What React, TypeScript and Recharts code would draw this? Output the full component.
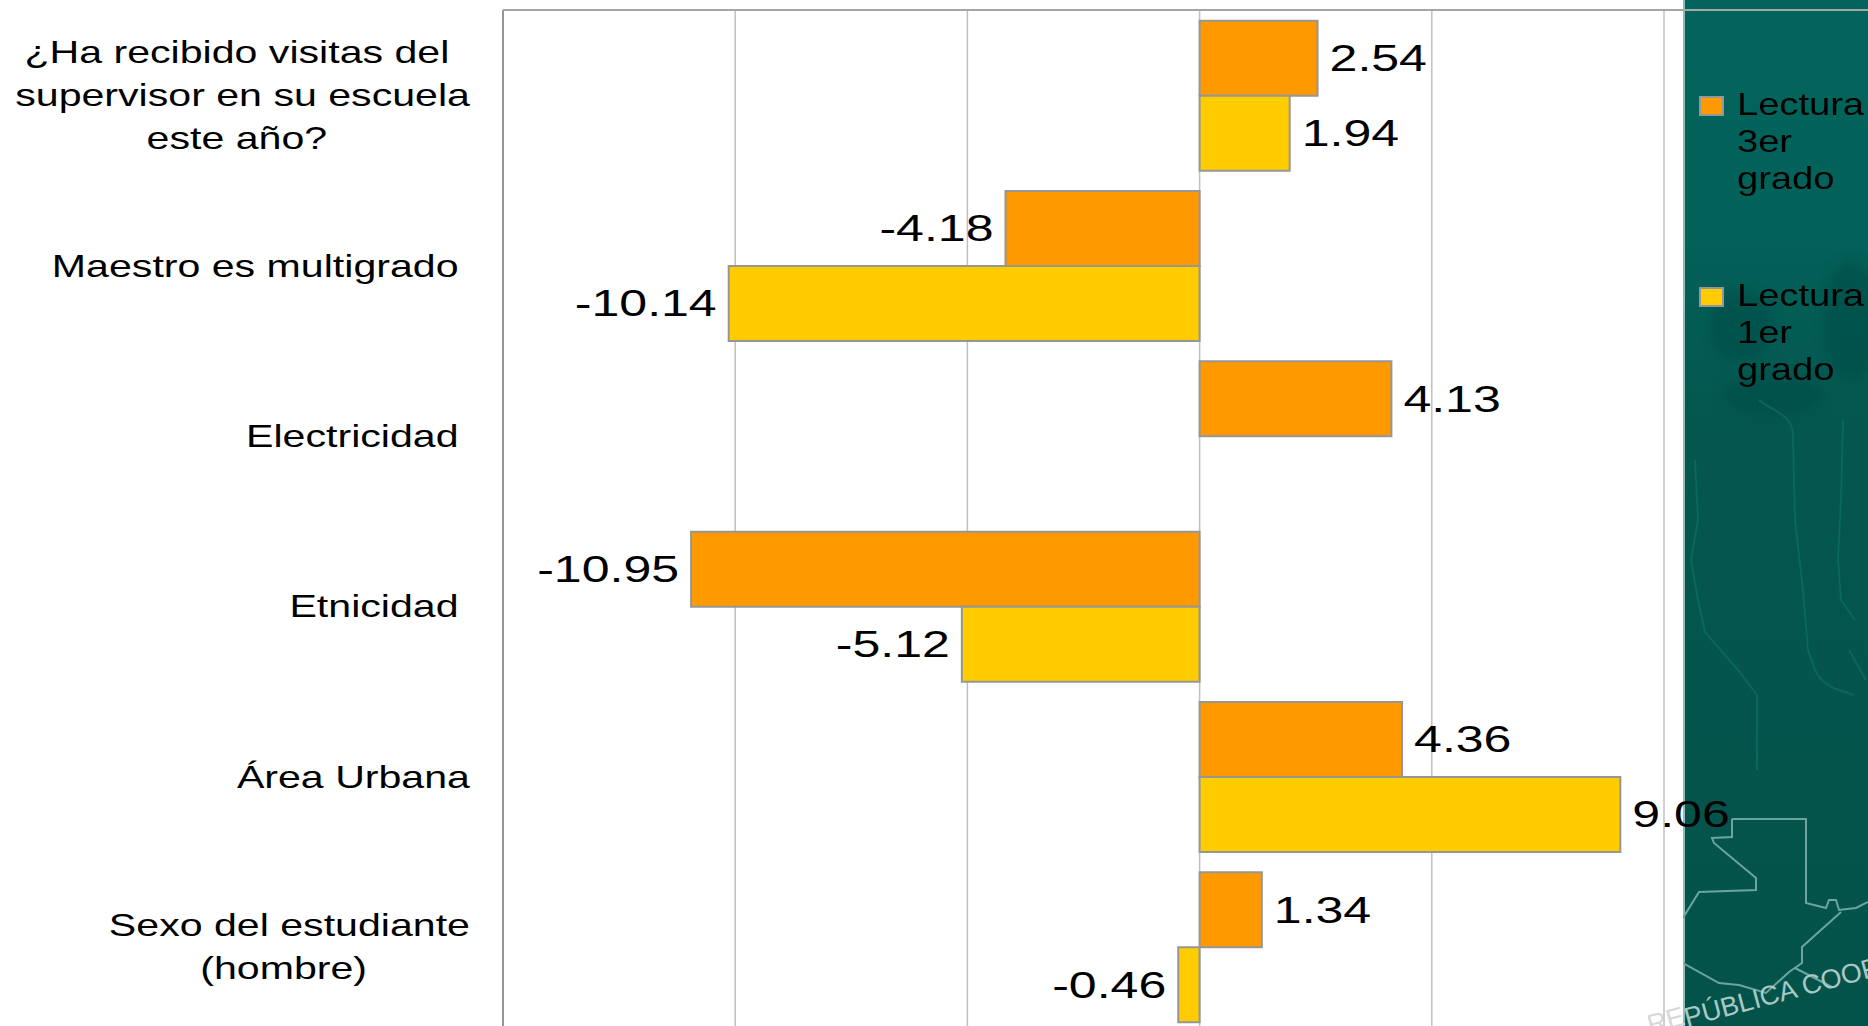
import React from 'react';
import { BarChart, Bar, XAxis, YAxis, CartesianGrid, LabelList, Legend } from 'recharts';

const categories = [
  '¿Ha recibido visitas del |supervisor en su escuela|este año? ',
  'Maestro es multigrado ',
  'Electricidad ',
  'Etnicidad ',
  'Área Urbana',
  'Sexo del estudiante|(hombre) ',
];
const lectura3er = [2.54, -4.18, 4.13, -10.95, 4.36, 1.34];
const lectura1er: (number | null)[] = [1.94, -10.14, null, -5.12, 9.06, -0.46];
const xTicks = [-15, -10, -5, 0, 5, 10];

const data = categories.map((category, i) => ({
  category,
  lectura3er: lectura3er[i],
  lectura1er: lectura1er[i],
}));

const FONT = '"Liberation Sans", Arial, sans-serif';
const TICK_SCALE = 1.285;
const VALUE_SCALE = 1.39;
const LEGEND_SCALE = 1.19;

const measure = (text: string, size: number) => {
  const ctx = document.createElement('canvas').getContext('2d')!;
  ctx.font = `${size}px "Liberation Sans"`;
  return ctx.measureText(text).width * TICK_SCALE;
};

const CategoryTick = ({ y, payload }: any) => {
  const lines: string[] = payload.value.split('|');
  const size = 32;
  const lineHeight = 43;
  const right = 470;
  const blockWidth = Math.max(...lines.map((l) => measure(l, size)));
  const cx = right - blockWidth / 2;
  const startY = y + 11 - ((lines.length - 1) * lineHeight) / 2;
  return (
    <g transform={`translate(${cx} ${startY}) scale(${TICK_SCALE} 1)`}>
      {lines.map((l, i) => (
        <text
          key={i}
          x={0}
          y={i * lineHeight}
          textAnchor="middle"
          fontFamily={FONT}
          fontSize={size}
          fill="#000"
          style={{ whiteSpace: 'pre' }}
        >
          {l}
        </text>
      ))}
    </g>
  );
};

const ValueLabel = ({ x, y, width, height, value }: any) => {
  if (value == null) return null;
  const negative = value < 0;
  const px = negative ? x + width - 12 : x + width + 12;
  return (
    <g transform={`translate(${px} ${y + height / 2 + 13}) scale(${VALUE_SCALE} 1)`}>
      <text x={0} y={0} textAnchor={negative ? 'end' : 'start'} fontFamily={FONT} fontSize={36} fill="#000">
        {value.toFixed(2)}
      </text>
    </g>
  );
};

// legend names wrap on each word, like in the slide
const LegendBlock = ({ payload }: any) => (
  <div style={{ fontFamily: FONT, color: '#000' }}>
    {payload.map((entry: any) => (
      <div key={entry.dataKey} style={{ display: 'flex', height: 191 }}>
        <span
          style={{
            flex: 'none',
            width: 25,
            height: 20,
            marginTop: 3,
            marginRight: 13,
            background: entry.color,
            border: '2px solid #969696',
            boxSizing: 'border-box',
          }}
        />
        <span style={{ fontSize: 32, lineHeight: '37px', marginTop: -7, transform: `scale(${LEGEND_SCALE},1)`, transformOrigin: 'left top' }}>
          {String(entry.value).replace('Lectura ', 'Lectura|').replace(' grado', '|grado').split('|').map((l) => (
            <div key={l}>{l}</div>
          ))}
        </span>
      </div>
    ))}
  </div>
);

const Panel = () => (
  <div
    style={{
      position: 'absolute',
      left: 1683,
      top: 0,
      width: 185,
      height: 1026,
      background: 'linear-gradient(180deg, #02645c 0%, #02625a 22%, #04564e 42%, #04534b 100%)',
      overflow: 'hidden',
    }}
  >
    <svg width={185} height={1026} style={{ position: 'absolute', left: 0, top: 0 }}>
      <defs>
        <filter id="soft">
          <feGaussianBlur stdDeviation="6" />
        </filter>
      </defs>
      <rect x={0} y={0} width={2} height={1026} fill="#8fbcb5" />
      <g fill="#034a44" opacity={0.45} filter="url(#soft)">
        <ellipse cx={58} cy={325} rx={32} ry={36} />
        <ellipse cx={168} cy={320} rx={28} ry={60} />
        <ellipse cx={90} cy={395} rx={50} ry={20} />
      </g>
      <g fill="none" stroke="#0b665b" strokeWidth={2}>
        <path d="M76 400 C90 412 112 414 110 440 L112 520 L120 590 L125 650 L132 670 C142 690 160 690 170 695" />
        <path d="M12 460 L15 520 L8 560 L15 600 L22 632 L55 670 L74 695 L74 770" />
        <path d="M160 420 L158 500 L155 560 L158 600 L172 620 M166 650 L183 680" />
      </g>
      <g fill="none" stroke="#6ba59d" strokeWidth={2}>
        <path d="M49 819 H123 V903 L143 908 L146 900 L153 900 L156 910 L173 908 L185 902" />
        <path d="M49 819 V837 L29 838 L31 843 L73 878 L73 890 L16 892 L0 918" />
        <path d="M158 912 L119 947 L119 963 L106 972 L83 993 L56 985 L36 983 L0 963 M112 968 L149 987" />
      </g>
      <text x={4} y={1027} fontFamily={FONT} fontSize={27} fill="#a9c9c4" transform="rotate(-15 4 1027)">
        PÚBLICA COOPERA
      </text>
    </svg>
  </div>
);

export default function App() {
  return (
    <div style={{ position: 'absolute', left: 0, top: 0, width: 1868, height: 1026, overflow: 'hidden', background: '#fff' }}>
      <Panel />
      <svg width={40} height={26} style={{ position: 'absolute', left: 1648, top: 1000 }}>
        <text x={2} y={34} fontFamily={FONT} fontSize={27} fill="#d8d8d8" transform="rotate(-15 2 34)">
          RE
        </text>
      </svg>
      <div style={{ position: 'absolute', left: 0, top: 0 }}>
        <BarChart
          width={1868}
          height={1032}
          layout="vertical"
          data={data}
          margin={{ top: 10, right: 204, bottom: 0, left: 0 }}
          barCategoryGap="6.25%"
          barGap={0}
        >
          <CartesianGrid horizontal={false} stroke="#c0c0c0" strokeWidth={1.5} />
          <XAxis type="number" domain={[-15, 10]} ticks={xTicks} hide />
          <YAxis
            type="category"
            dataKey="category"
            width={503}
            axisLine={{ stroke: '#969696', strokeWidth: 2 }}
            tickLine={false}
            tick={<CategoryTick />}
            interval={0}
          />
          <Legend
            content={<LegendBlock />}
            itemSorter={null}
            layout="vertical"
            align="center"
            verticalAlign="middle"
            wrapperStyle={{ left: 1699, top: 93, width: 170 }}
          />
          <Bar dataKey="lectura3er" name="Lectura 3er grado" fill="#ff9900" stroke="#969696" strokeWidth={2} isAnimationActive={false}>
            <LabelList dataKey="lectura3er" content={<ValueLabel />} />
          </Bar>
          <Bar dataKey="lectura1er" name="Lectura 1er grado" fill="#ffcc00" stroke="#969696" strokeWidth={2} isAnimationActive={false}>
            <LabelList dataKey="lectura1er" content={<ValueLabel />} />
          </Bar>
        </BarChart>
      </div>
      <div style={{ position: 'absolute', left: 503, top: 9, width: 1365, height: 2, background: '#a6a6a6' }} />
    </div>
  );
}
